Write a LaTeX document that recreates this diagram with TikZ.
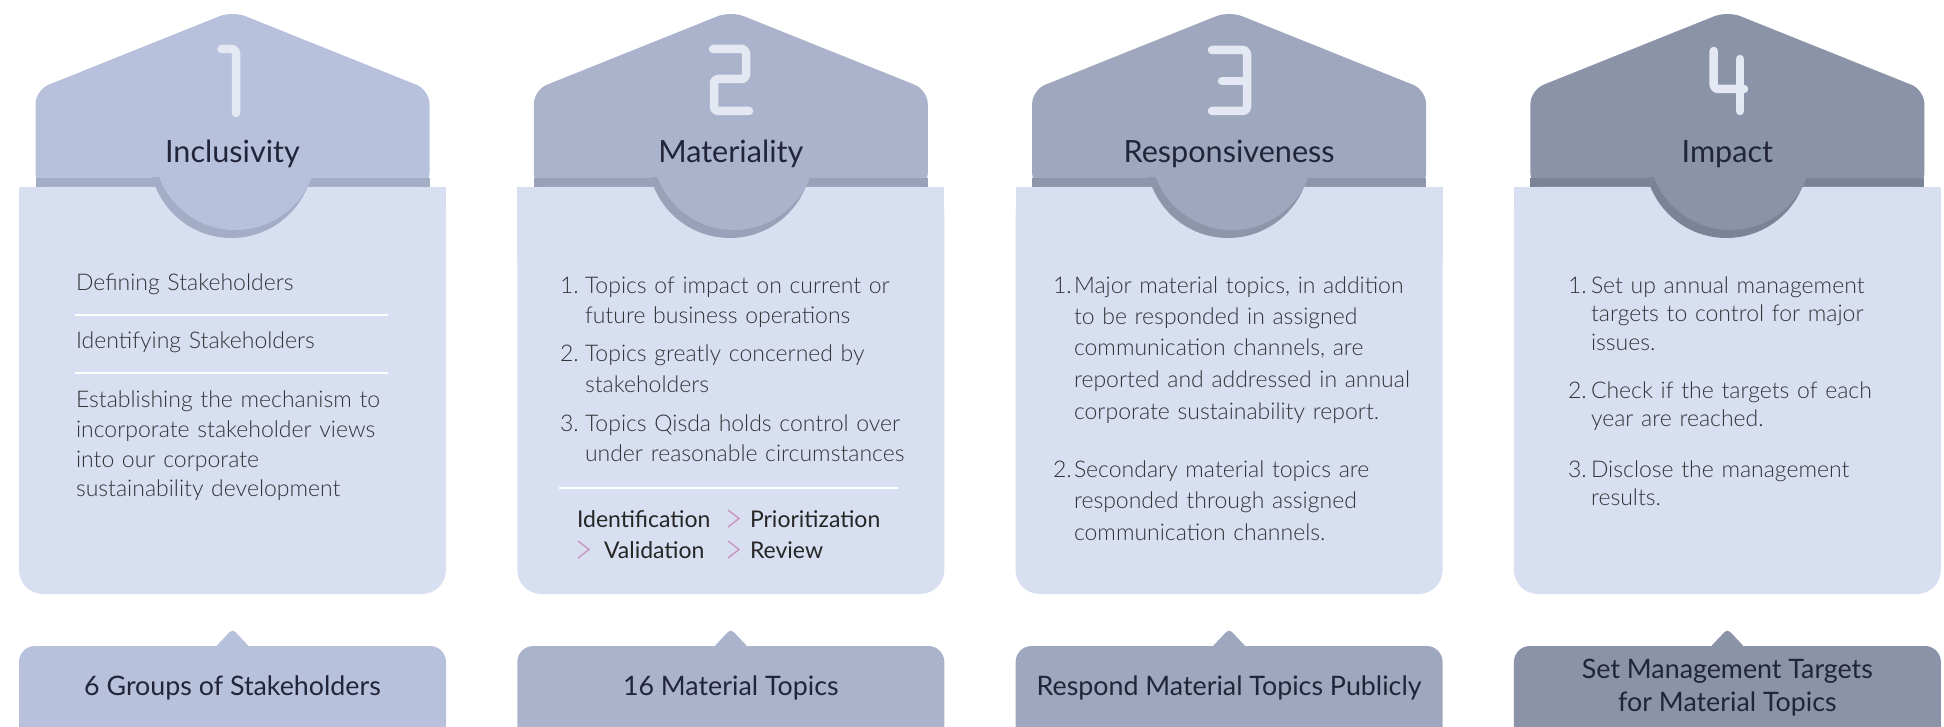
\documentclass[tikz,border=0pt]{standalone}
\usepackage{fontspec}
\setmainfont{Lato}
\newfontfamily\lightfont{Lato Light}
\usetikzlibrary{positioning,calc}
\usepackage{xcolor}
\definecolor{hdA}{HTML}{B7C1DC}
\definecolor{hdB}{HTML}{ABB2CC}
\definecolor{hdC}{HTML}{9EA7BD}
\definecolor{hdD}{HTML}{8A93A7}
\definecolor{stA}{HTML}{A4ADC6}
\definecolor{stB}{HTML}{99A0B8}
\definecolor{stC}{HTML}{8C95AA}
\definecolor{stD}{HTML}{7B8396}
\definecolor{bodycol}{HTML}{D8DFF0}
\definecolor{numcol}{HTML}{E4E8F2}
\definecolor{titlecol}{HTML}{22253A}
\definecolor{desccol}{HTML}{333338}
\definecolor{chevcol}{HTML}{C896C3}

\begin{document}
\begin{tikzpicture}[
    x=0.5pt, y=-0.5pt, % one unit = one pixel, y runs down
    every node/.style={inner sep=0pt, outer sep=0pt},
    title/.style={font=\fontsize{15.3}{18}\selectfont, text=titlecol, anchor=base}, % Inclusivity, ...
    goal/.style={font=\fontsize{13.4}{16.5}\selectfont, text=titlecol, align=center}, % bottom boxes
    desc/.style={font=\lightfont\fontsize{11.5}{#1}\selectfont, text=desccol, anchor=base west, align=left, text width=185pt},
    desc/.default=15pt,
    stepnode/.style={font=\fontsize{11.5}{14}\selectfont, text=black!85, anchor=base west}, % process steps
    numstroke/.style={draw=numcol, line width=4.25pt, line cap=round, line join=round, rounded corners=2pt}, % big digits
    rule/.style={draw=white, line width=0.8pt},
    chev/.style={draw=chevcol, line width=0.7pt, line join=miter}
]
\useasboundingbox (0,0) rectangle (1944,727);

% four cards: header, strip, body, half disc, bottom box
\foreach \i/\hd/\st/\name/\goaltext in {
    0/hdA/stA/Inclusivity/{6 Groups of Stakeholders},
    1/hdB/stB/Materiality/{16 Material Topics},
    2/hdC/stC/Responsiveness/{Respond Material Topics Publicly},
    3/hdD/stD/Impact/{Set Management Targets\\for Material Topics}}{
\begin{scope}[xshift={116.25pt+\i*249.15pt}]
    \fill[fill=\hd, rounded corners=7pt] (-197,187) -- (-197,90) -- (0,11) -- (197,90) -- (197,187) -- cycle;
    \fill[fill=\st] (-197,178) rectangle (197,187);
    \fill[bodycol, rounded corners=12pt] (-213.5,187) rectangle (213.5,594);
    \fill[bodycol] (-213.5,187) rectangle (213.5,260);
    \begin{scope}
        \clip (-215,178) rectangle (215,260);
        \fill[fill=\st] (-1,156) circle [radius=82]; % shadow
        \fill[fill=\hd] (3,148.5) circle [radius=81.5];
    \end{scope}
    \node[title] (title\i) at (0,162.5) {\name};
    \fill[fill=\hd, rounded corners=8pt] (-213.5,646) rectangle (213.5,760);
    \fill[fill=\hd, rounded corners=2pt] (-18,648) -- (0,629) -- (18,648) -- cycle;
    \node[goal] (goal\i) at (0,688) {\goaltext};
\end{scope}
}

% big digits
\draw[numstroke] (221.5,49) -- (236,49) -- (236,113);
\draw[numstroke] (713,49) -- (746,49) -- (746,79) -- (714,79) -- (714,111) -- (749,111);
\draw[numstroke] (1212,50) -- (1247,50) -- (1247,111) -- (1212,111);
\draw[numstroke] (1222,81) -- (1247,81);
\draw[numstroke] (1713.7,51) -- (1713.7,89) -- (1744,89);
\draw[numstroke] (1740,59) -- (1740,111);

% card 1
\node[desc] (defin) at (76,291) {Defining Stakeholders};
\draw[rule] (75,315) -- (388,315);
\node[desc] (ident) at (76,349) {Identifying Stakeholders};
\draw[rule] (75,373) -- (388,373);
\node[desc=14.75pt] (mech) at (76,408) {Establishing the mechanism to\\incorporate stakeholder views\\into our corporate\\sustainability development};

% card 2
\node[desc] (mat1n) at (560,293) {1.};
\node[desc=15.25pt] (mat1) at (585,293) {Topics of impact on current or\\future business operations};
\node[desc] (mat2n) at (560,362) {2.};
\node[desc=15.25pt] (mat2) at (585,362) {Topics greatly concerned by\\stakeholders};
\node[desc] (mat3n) at (560,431) {3.};
\node[desc=15.25pt] (mat3) at (585,431) {Topics Qisda holds control over\\under reasonable circumstances};
\draw[rule] (559,488) -- (898,488);
\node[stepnode] (stp1) at (577,527) {Identification};
\node[stepnode] (stp2) at (750,527) {Prioritization};
\node[stepnode] (stp3) at (604,558) {Validation};
\node[stepnode] (stp4) at (750,558) {Review};
\draw[chev] ($(stp2.base west)+(-22,-17)$) -- ++(11,8.5) -- ++(-11,8.5);
\draw[chev] ($(stp3.base west)+(-26,-17)$) -- ++(11,8.5) -- ++(-11,8.5);
\draw[chev] ($(stp4.base west)+(-22,-17)$) -- ++(11,8.5) -- ++(-11,8.5);

% card 3
\node[desc] (resp1n) at (1053,293) {1.};
\node[desc=15.75pt] (resp1) at (1074,293) {Major material topics, in addition\\to be responded in assigned\\communication channels, are\\reported and addressed in annual\\corporate sustainability report.};
\node[desc] (resp2n) at (1053,477) {2.};
\node[desc=15.75pt] (resp2) at (1074,477) {Secondary material topics are\\responded through assigned\\communication channels.};

% card 4
\node[desc] (imp1n) at (1568,293) {1.};
\node[desc=14.25pt] (imp1) at (1591,293) {Set up annual management\\targets to control for major\\issues.};
\node[desc] (imp2n) at (1568,398) {2.};
\node[desc=14.25pt] (imp2) at (1591,398) {Check if the targets of each\\year are reached.};
\node[desc] (imp3n) at (1568,477) {3.};
\node[desc=14.25pt] (imp3) at (1591,477) {Disclose the management\\results.};
\end{tikzpicture}
\end{document}
